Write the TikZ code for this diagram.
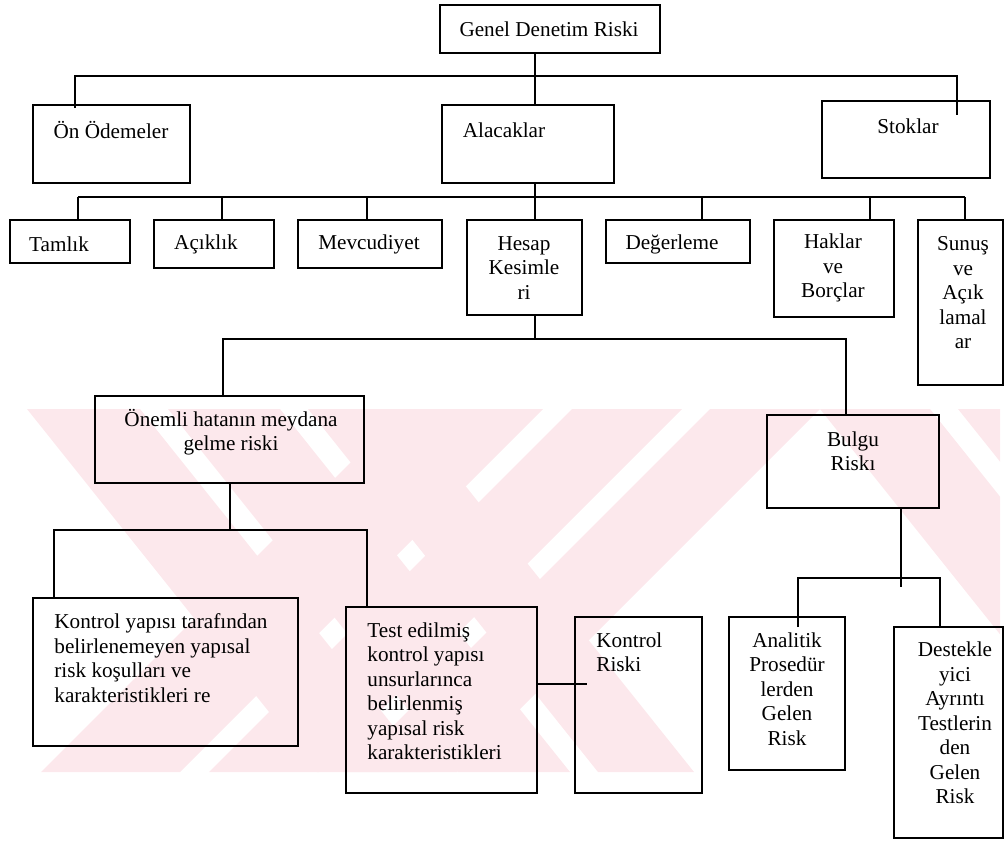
\documentclass[tikz,border=0pt]{standalone}
\usepackage{fontspec}
\setmainfont{Liberation Serif}
\usetikzlibrary{positioning,calc}
\definecolor{wmPink}{RGB}{252,232,236}
\tikzset{
  box/.style={draw, rectangle, line width=1pt, inner sep=0pt, outer sep=0pt, anchor=north west},
  sz/.style 2 args={minimum width=#1*0.5pt, minimum height=#2*0.5pt},
  txt/.style={font=\fontsize{10.6}{12.25}\selectfont, align=center, inner sep=0pt},
  ltxt/.style={txt, align=left, anchor=west},
  link/.style={line width=0.8pt},
  wmstripe/.style={fill=wmPink}
}
\begin{document}
\begin{tikzpicture}[x=0.5pt, y=-0.5pt]
  \useasboundingbox (0,0) rectangle (1005,843);

  % faint watermark behind the chart
  \begin{scope}
    \clip (27,409) rectangle (1000,772);
    \foreach \a/\w in {27/113,168/112,308/96,820/110,958/80}
      \fill[wmstripe] (\a,409) -- ++(\w,0) -- ++(290,363) -- ++(-\w,0) -- cycle;
    \foreach \a/\w in {404/139,572/110,710/110}
      \fill[wmstripe] (\a,409) -- ++(\w,0) -- ++(-363,363) -- ++(-\w,0) -- cycle;
  \end{scope}

  % top levels
  \node[box, sz={220}{48}] (genel) at (440,5) {};
  \node[txt] (genelT) at (549,29) {Genel Denetim Riski};
  \node[box, sz={157}{78}] (onode) at (33,105) {};
  \node[txt] (onodeT) at (111,130) {Ön Ödemeler};
  \node[box, sz={172}{78}] (alac) at (442,105) {};
  \node[txt] (alacT) at (504,130) {Alacaklar};
  \node[box, sz={168}{77}] (stok) at (822,101) {};
  \node[txt] (stokT) at (908,126) {Stoklar};

  % assertions
  \node[box, sz={120}{43}] (taml) at (10,220) {};
  \node[txt] (tamlT) at (59,244) {Tamlık};
  \node[box, sz={120}{48}] (acik) at (154,220) {};
  \node[txt] (acikT) at (206,244) {Açıklık};
  \node[box, sz={144}{48}] (mevc) at (298,220) {};
  \node[txt] (mevcT) at (369,244) {Mevcudiyet};
  \node[box, sz={115}{95}] (hesap) at (467,220) {};
  \node[txt] (hesapT) at (524,268) {Hesap\\Kesimle\\ri};
  \node[box, sz={144}{43}] (deger) at (606,220) {};
  \node[txt] (degerT) at (672,244) {Değerleme};
  \node[box, sz={120}{97}] (hakl) at (774,220) {};
  \node[txt] (haklT) at (833,268) {Haklar\\ve\\Borçlar};
  \node[box, sz={85}{165}] (sunus) at (918,220) {};
  \node[txt] (sunusT) at (963,293) {Sunuş\\ve\\Açık\\lamal\\ar};

  % risk parts
  \node[box, sz={269}{87}] (onemli) at (95,396) {};
  \node[txt] (onemliT) at (231,432) {Önemli hatanın meydana\\gelme riski};
  \node[box, sz={172}{93}] (bulgu) at (767,415) {};
  \node[txt] (bulguT) at (853,451) {Bulgu\\Riskı};

  \node[box, sz={265}{148}] (kys) at (33,598) {};
  \node[ltxt] (kysT) at (54,658) {Kontrol yapısı tarafından\\belirlenemeyen yapısal\\risk koşulları ve\\karakteristikleri re};
  \node[box, sz={191}{186}] (test) at (346,607) {};
  \node[ltxt] (testT) at (367,691) {Test edilmiş\\kontrol yapısı\\unsurlarınca\\belirlenmiş\\yapısal risk\\karakteristikleri};
  \node[box, sz={127}{176}] (kontr) at (575,617) {};
  \node[ltxt] (kontrT) at (596,652) {Kontrol\\Riski};
  \node[box, sz={116}{153}] (anal) at (729,617) {};
  \node[txt] (analT) at (787,689) {Analitik\\Prosedür\\lerden\\Gelen\\Risk};
  \node[box, sz={109}{211}] (destek) at (894,627) {};
  \node[txt] (destekT) at (955,723) {Destekle\\yici\\Ayrıntı\\Testlerin\\den\\Gelen\\Risk};

  % connectors
  \coordinate (j1) at (535,76);
  \coordinate (j1L) at (75,76);
  \coordinate (j1R) at (957,76);
  \draw[link] (j1 |- genel.south) -- (j1 |- alac.north);
  \draw[link] ($(j1L |- onode.north)+(0,3)$) |- (j1R) -- ($(j1R |- stok.north)+(0,14)$);

  \coordinate (j2) at (535,197);
  \draw[link] (j2 |- alac.south) -- (j2 |- hesap.north);
  \draw[link] (j2 -| 78,0) -- (j2 -| 965,0);
  \foreach \n/\x in {taml/78,acik/222,mevc/367,deger/702,hakl/870,sunus/965}
    \draw[link] (j2 -| \x,0) -- (\n.north -| \x,0);

  \coordinate (j3) at (535,339);
  \draw[link] (j3 |- hesap.south) -- (j3);
  \draw[link] (onemli.north -| 223,0) |- (j3 -| 846,0) -- (bulgu.north -| 846,0);

  \coordinate (j4) at (230,530);
  \draw[link] (j4 |- onemli.south) -- (j4);
  \draw[link] (kys.north -| 54,0) |- (j4 -| 367,0) -- (test.north -| 367,0);
  \draw[link] (test.east |- 0,684) -- ($(kontr.west |- 0,684)+(12,0)$);

  \coordinate (j5) at (901,578);
  \draw[link] (j5 |- bulgu.south) -- ($(j5)+(0,9)$);
  \draw[link] ($(anal.north -| 798,0)+(0,10)$) |- (j5 -| 940,0) -- (destek.north -| 940,0);
\end{tikzpicture}
\end{document}
